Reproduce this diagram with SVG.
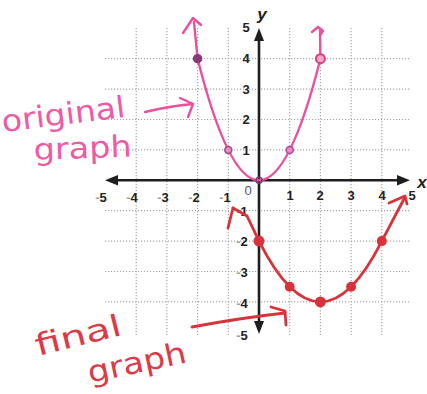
<svg xmlns="http://www.w3.org/2000/svg" width="427" height="394" viewBox="0 0 427 394">
<style>
.grid{stroke:#a8a8a8;stroke-width:1.2;stroke-dasharray:1.2 1.8;fill:none}
.axis{stroke:#1e1e1e;stroke-width:2.6;fill:none}
.lbl{font-family:"Liberation Sans",Arial,sans-serif;font-weight:bold;font-size:13px;fill:#222;text-anchor:middle}
.neg{fill:#a0a0a0}
.pink{stroke:#ec4f9b;stroke-width:2.4;fill:none;stroke-linecap:round;stroke-linejoin:round}
.red{stroke:#d8333b;stroke-width:2.8;fill:none;stroke-linecap:round;stroke-linejoin:round}
.hand{font-family:"DejaVu Sans","Noto Sans",sans-serif;font-size:30px;font-weight:normal}
</style>
<rect width="427" height="394" fill="#fff"/>
<g id="grid">
<path class="grid" d="M136.2,28V335M166.9,28V335M197.6,28V335M228.3,28V335M289.7,28V335M320.4,28V335M351.1,28V335M381.8,28V335"/>
<path class="grid" d="M105,58.7H410M105,89.1H410M105,119.5H410M105,149.9H410M105,210.7H410M105,241.1H410M105,271.5H410M105,301.9H410"/>
</g>
<g id="axes">
<path class="axis" d="M114,180.3H400"/>
<path class="axis" d="M259,38V324"/>
<polygon points="105,180.3 118,175 118,185.6" fill="#1e1e1e"/>
<polygon points="410,180.3 397,175 397,185.6" fill="#1e1e1e"/>
<polygon points="259,28 254,41 264,41" fill="#1e1e1e"/>
<polygon points="259,334 254,321 264,321" fill="#1e1e1e"/>
<text x="262" y="20" style="font-family:'Liberation Sans',Arial,sans-serif;font-style:italic;font-weight:bold;font-size:17px;fill:#222" text-anchor="middle">y</text>
<text x="422" y="188" style="font-family:'Liberation Sans',Arial,sans-serif;font-style:italic;font-weight:bold;font-size:17px;fill:#222" text-anchor="middle">x</text>
</g>
<g id="x-labels">
<text class="lbl" x="101" y="202"><tspan class="neg">-</tspan>5</text>
<text class="lbl" x="132" y="202"><tspan class="neg">-</tspan>4</text>
<text class="lbl" x="163" y="202"><tspan class="neg">-</tspan>3</text>
<text class="lbl" x="194" y="202"><tspan class="neg">-</tspan>2</text>
<text class="lbl" x="225" y="202"><tspan class="neg">-</tspan>1</text>
<text class="lbl" x="248" y="195" style="fill:#555;font-weight:normal">0</text>
<text class="lbl" x="290" y="200">1</text>
<text class="lbl" x="320" y="200">2</text>
<text class="lbl" x="351" y="200">3</text>
<text class="lbl" x="382" y="200">4</text>
<text class="lbl" x="412" y="200">5</text>
</g>
<g id="y-labels">
<text class="lbl" x="246" y="32">5</text>
<text class="lbl" x="246" y="63">4</text>
<text class="lbl" x="246" y="94">3</text>
<text class="lbl" x="246" y="124">2</text>
<text class="lbl" x="246" y="155">1</text>
<text class="lbl" x="242" y="216"><tspan class="neg">-</tspan>1</text>
<text class="lbl" x="242" y="246"><tspan class="neg">-</tspan>2</text>
<text class="lbl" x="242" y="277"><tspan class="neg">-</tspan>3</text>
<text class="lbl" x="242" y="308"><tspan class="neg">-</tspan>4</text>
<text class="lbl" x="242" y="340"><tspan class="neg">-</tspan>5</text>
</g>
<g id="connectors">
<g id="original-curve">
<path class="pink" d="M194,22 L197.6,58.7 Q259,301.9 320.4,58.7 L320,30"/>
<polyline class="pink" points="183,33 193,18 201,25"/>
<polyline class="pink" points="312,32 318,27 323,31 320,35"/>
<circle cx="197.6" cy="58.7" r="4" fill="#8a3a78" stroke="#8a3a78" stroke-width="1.5"/>
<circle cx="228.3" cy="149.9" r="3.5" fill="#e98cc0" stroke="#9a4a8e" stroke-width="1.5"/>
<circle cx="259" cy="180.3" r="3" fill="none" stroke="#7a3a6e" stroke-width="1.5"/>
<circle cx="289.7" cy="149.9" r="3.5" fill="#e98cc0" stroke="#b04a9a" stroke-width="1.5"/>
<circle cx="320.4" cy="58.7" r="4.5" fill="#f3a6cc" stroke="#d8407e" stroke-width="2"/>
</g>
<g id="final-curve">
<path class="red" d="M233,208 L247,216 L259,241.1 Q320.4,362.7 381.8,241.1 L405,197"/>
<polyline class="red" points="228,228 233,208"/>
<polyline class="red" points="389,203 405,196 407,204"/>
<circle cx="259" cy="241.1" r="5.5" fill="#d8333b"/>
<circle cx="289.7" cy="286.7" r="5" fill="#d8333b"/>
<circle cx="320.4" cy="301.9" r="5.5" fill="#d8333b"/>
<circle cx="351.1" cy="286.7" r="5" fill="#d8333b"/>
<circle cx="381.8" cy="241.1" r="5" fill="#d8333b"/>
</g>
<g id="arrow-original">
<path class="pink" d="M145,112 Q170,106 193,104"/>
<polyline class="pink" points="180,98 193,104 188,117"/>
</g>
<g id="arrow-final">
<path class="red" d="M192,327 Q240,318 285,313"/>
<polyline class="red" points="271,307 285,311 286,325"/>
</g>
</g>
<g id="label-original">
<text class="hand" fill="#ee5aa4" transform="translate(3,132) rotate(-7)" textLength="124" lengthAdjust="spacingAndGlyphs">original</text>
<text class="hand" fill="#ee5aa4" transform="translate(34,160) rotate(-2)" textLength="98" lengthAdjust="spacingAndGlyphs">graph</text>
</g>
<g id="label-final">
<text class="hand" fill="#dc3a48" transform="translate(38,356) rotate(-14)" textLength="88" lengthAdjust="spacingAndGlyphs">final</text>
<text class="hand" fill="#dc3a48" transform="translate(90,383) rotate(-12)" textLength="100" lengthAdjust="spacingAndGlyphs">graph</text>
</g>
</svg>
